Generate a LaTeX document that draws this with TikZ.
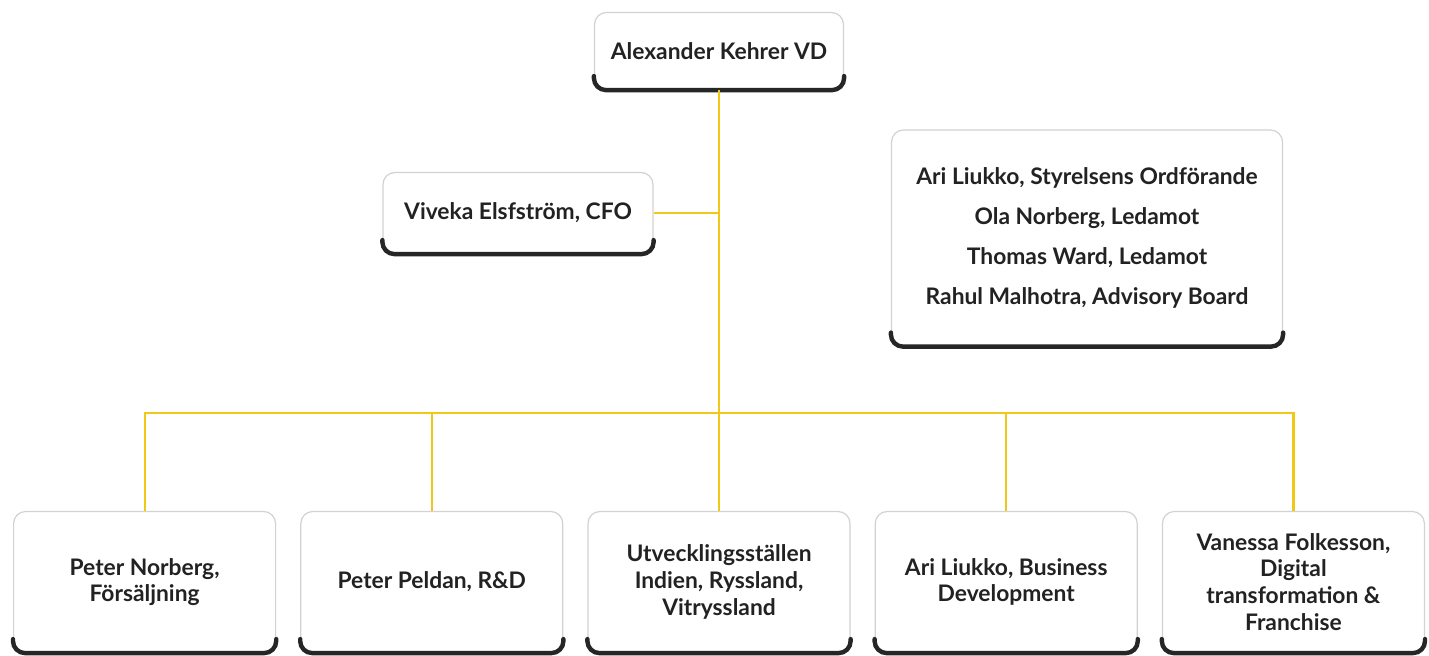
\documentclass[tikz,border=0pt]{standalone}
\usepackage{fontspec}
\setmainfont{Lato}
\usepackage{tikz}
\usetikzlibrary{positioning}
\definecolor{linegold}{RGB}{240,200,24}
\definecolor{inkgray}{RGB}{34,34,34}

\begin{document}
\begin{tikzpicture}[x=0.5pt, y=-0.5pt,
                      card/.style={rectangle, rounded corners=6pt, draw=gray!35, line width=0.6pt, fill=white, align=center, text=inkgray, font=\bfseries\fontsize{11.4}{13.4}\selectfont, inner sep=2pt},
                      rowcard/.style={card, minimum width=131pt, minimum height=70.5pt},
                      cardedge/.style={draw=black!85, line width=2.2pt, rounded corners=6pt, line cap=round},
                      branch/.style={draw=linegold, line width=1.1pt},
                  ]
                  \useasboundingbox (0,0) rectangle (1429,656);

                  %Nodes
                  \node[card, minimum width=124.5pt, minimum height=38.5pt]  (ceo)   at (719,51)   {Alexander Kehrer VD};
                  \node[card, minimum width=135pt, minimum height=40.5pt]    (cfo)   at (518,213)  {Viveka Elsfström, CFO};
                  \node[card, minimum width=195.5pt, minimum height=108pt, font=\bfseries\fontsize{11.4}{20}\selectfont]
                                                                             (board) at (1087,238) {Ari Liukko, Styrelsens Ordförande\\Ola Norberg, Ledamot\\Thomas Ward, Ledamot\\Rahul Malhotra, Advisory Board};

                  \node[rowcard]    (dev)      at (719,582)            {Utvecklingsställen\\Indien, Ryssland,\\Vitryssland};
                  \node[rowcard]    (rnd)      [left=12pt of dev]      {Peter Peldan, R\&D};
                  \node[rowcard]    (sales)    [left=12pt of rnd]      {Peter Norberg,\\Försäljning};
                  \node[rowcard]    (bizdev)   [right=12pt of dev]     {Ari Liukko, Business\\Development};
                  \node[rowcard]    (digital)  [right=12pt of bizdev]  {Vanessa Folkesson,\\Digital\\transformation \&\\Franchise};

                  %Card bottoms
                  \foreach \card in {ceo,cfo,board,sales,rnd,dev,bizdev,digital}
                    \draw[cardedge] ([yshift=7pt]\card.south west) -- (\card.south west) -- (\card.south east) -- ([yshift=7pt]\card.south east);

                  %Lines
                  \coordinate (busy) at (0,413);
                  \coordinate (bus)  at (ceo.south |- busy);
                  \draw[branch] (ceo.south) -- (dev.north);
                  \draw[branch] (cfo.east) -- (cfo.east -| ceo.south);
                  \draw[branch] (bus) -| (sales.north);
                  \draw[branch] (bus) -| (rnd.north);
                  \draw[branch] (bus) -| (bizdev.north);
                  \draw[branch] (bus) -| (digital.north);
\end{tikzpicture}
\end{document}
